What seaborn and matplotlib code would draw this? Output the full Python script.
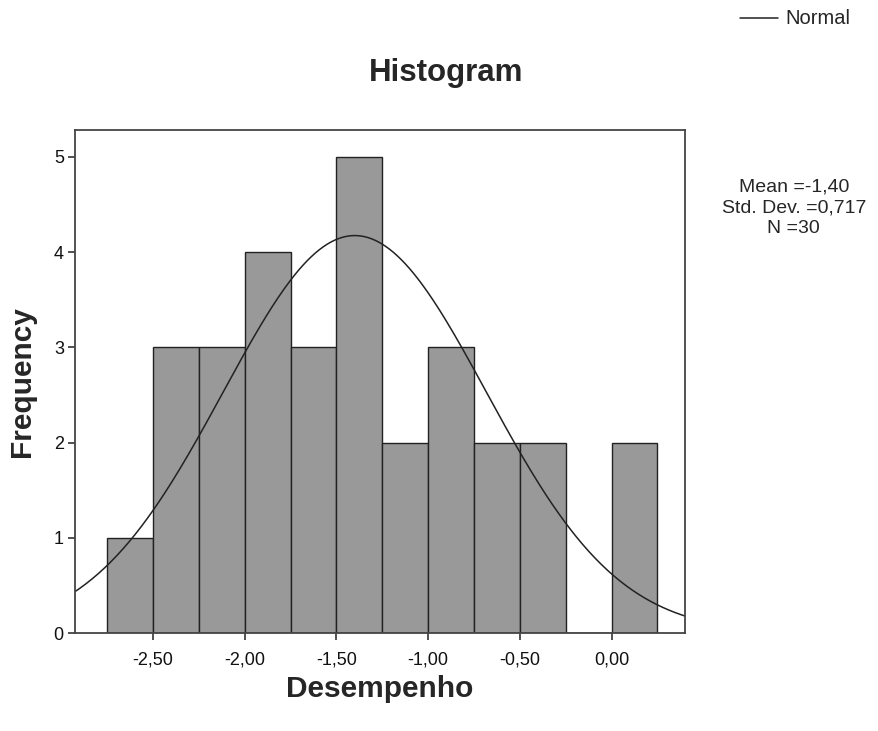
import numpy as np
import pandas as pd
import matplotlib
matplotlib.use('Agg')
import matplotlib.pyplot as plt
import seaborn as sns

bin_centers = [-2.625, -2.375, -2.125, -1.875, -1.625, -1.375, -1.125, -0.875, -0.625, -0.375, -0.125, 0.125]
counts = [1, 3, 3, 4, 3, 5, 2, 3, 2, 2, 0, 2]
bin_edges = [-2.75, -2.5, -2.25, -2.0, -1.75, -1.5, -1.25, -1.0, -0.75, -0.5, -0.25, 0.0, 0.25]
mean_val = -1.40
sd_val = 0.717
n_val = 30
x_ticks = [-2.5, -2.0, -1.5, -1.0, -0.5, 0.0]
x_ticklabels = ['-2,50', '-2,00', '-1,50', '-1,00', '-0,50', '0,00']

sns.set_style('white')
plt.rcParams['font.family'] = ['Liberation Sans', 'DejaVu Sans']

fig = plt.figure(figsize=(8.79, 7.31), dpi=100)
ax = fig.add_axes([0.0853, 0.134, 0.694, 0.688])

df = pd.DataFrame({'Desempenho': bin_centers, 'w': counts})
sns.histplot(data=df, x='Desempenho', weights='w', bins=bin_edges, ax=ax,
             color='#999999', alpha=1, edgecolor='#222222', linewidth=1.0)

# curva normal ajustada (N * largura do bin)
xs = np.linspace(-2.93, 0.40, 300)
ys = n_val * 0.25 / (sd_val * np.sqrt(2 * np.pi)) * np.exp(-0.5 * ((xs - mean_val) / sd_val) ** 2)
sns.lineplot(x=xs, y=ys, ax=ax, color='#222222', linewidth=1.1)

ax.set_xlim(-2.925, 0.40)
ax.set_ylim(0, 5.28)
ax.set_xticks(x_ticks)
ax.set_xticklabels(x_ticklabels)
ax.set_yticks([0, 1, 2, 3, 4, 5])
ax.tick_params(axis='both', direction='out', length=5, width=1.2, color='#333333',
               labelsize=13, labelcolor='#111111', bottom=True, left=True)
ax.tick_params(axis='x', pad=8)
ax.tick_params(axis='y', pad=3)
for s in ax.spines.values():
    s.set_color('#444444')
    s.set_linewidth(1.3)

ax.set_xlabel('Desempenho', fontsize=21.5, fontweight='bold', labelpad=5)
ax.set_ylabel('Frequency', fontsize=21.5, fontweight='bold')
ax.yaxis.set_label_coords(-0.064, 0.5)
fig.text(0.507, 0.900, 'Histogram', ha='center', va='center', fontsize=22.5, fontweight='bold')

# legenda e estatísticas
fig.add_artist(plt.Line2D([0.842, 0.885], [0.975, 0.975], color='#222222', linewidth=1.1))
fig.text(0.893, 0.975, 'Normal', ha='left', va='center', fontsize=14.5)
fig.text(0.903, 0.756, 'Mean =-1,40\nStd. Dev. =0,717\nN =30', ha='center', va='top',
         fontsize=14, linespacing=1.3)

fig.savefig('out.png', dpi=100)
